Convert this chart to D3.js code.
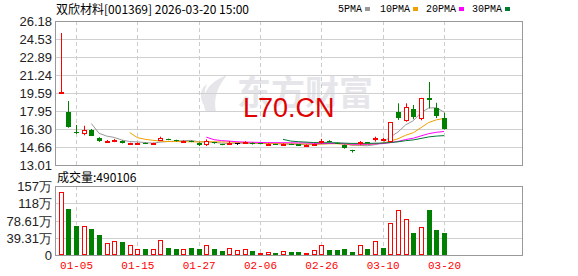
<!DOCTYPE html>
<html lang="zh">
<head>
<meta charset="UTF-8">
<title>双欣材料 日K</title>
<script src="https://cdn.jsdelivr.net/npm/d3@7"></script>
<style>
  body { margin: 0; background: #fff; }
  svg { display: block; }
</style>
</head>
<body>
<div id="draw-here"></div>
<script>
// daily bars, volume in 万股
var dates = ["12-30","12-31","01-05","01-06","01-07","01-08","01-09","01-12","01-13","01-14",
  "01-15","01-16","01-19","01-20","01-21","01-22","01-23","01-26","01-27","01-28",
  "01-29","01-30","02-02","02-03","02-04","02-05","02-06","02-09","02-10","02-11",
  "02-12","02-13","02-24","02-25","02-26","02-27","03-02","03-03","03-04","03-05",
  "03-06","03-09","03-10","03-11","03-12","03-13","03-16","03-17","03-18","03-19","03-20"];
var opens = [19.55,17.86,16.06,15.85,16.24,15.51,15.15,15.14,15.23,14.95,
  14.93,15.03,14.95,15.23,15.37,15.30,15.18,15.20,15.05,14.85,
  15.10,14.90,14.95,15.00,15.05,15.05,15.00,14.92,14.95,14.90,
  14.95,14.90,14.80,14.85,15.05,15.20,15.05,14.84,14.38,14.93,
  15.09,15.30,15.30,15.09,17.89,17.03,18.13,17.19,19.14,18.20,17.31];
var highs = [25.08,18.86,16.67,16.60,16.30,15.55,15.30,15.40,15.26,15.05,
  15.06,15.06,15.04,15.60,15.42,15.32,15.26,15.24,15.08,15.35,
  15.12,14.92,15.20,15.00,15.18,15.08,15.02,14.98,14.97,14.98,
  14.96,14.92,14.88,14.98,15.40,15.28,15.08,14.88,14.40,15.20,
  15.12,15.60,15.50,16.95,18.65,18.65,18.50,19.15,20.60,18.70,17.79];
var lows = [19.50,16.42,15.85,15.73,15.65,15.12,15.08,15.10,14.98,14.92,
  14.90,14.95,14.92,15.20,15.28,15.15,15.15,15.10,14.75,14.75,
  14.95,14.82,14.85,14.85,15.00,14.88,14.90,14.90,14.88,14.88,
  14.85,14.75,14.78,14.82,14.95,15.10,14.95,14.50,14.15,14.85,
  14.98,15.15,15.25,15.05,17.13,16.97,17.19,17.10,18.20,17.30,16.25];
var closes = [19.65,16.51,15.94,16.21,15.69,15.21,15.22,15.32,15.00,15.02,
  15.03,14.98,15.00,15.48,15.30,15.18,15.22,15.12,14.85,15.20,
  15.00,14.85,15.00,15.00,15.12,14.90,14.92,14.95,14.90,14.95,
  14.88,14.78,14.85,14.95,15.20,15.13,14.98,14.53,14.25,15.09,
  15.00,15.48,15.40,16.91,17.34,18.29,17.37,19.11,18.98,17.50,16.31];
var volumes = [144.3,104.8,66.1,66.1,59.2,45.6,27.3,31.9,29.6,22.1,
  13.7,13.7,13.7,34.2,16.0,13.7,13.7,16.6,13.7,22.8,
  13.7,9.8,15.3,11.4,13.7,9.8,5.2,6.8,5.2,9.1,
  6.8,6.8,4.6,11.4,22.8,11.4,11.4,13.7,6.8,22.8,
  13.7,31.9,16.0,72.2,101.9,81.4,50.8,63.8,102.5,57.0,49.0106];

var priceTicks = [13.01, 14.66, 16.30, 17.95, 19.59, 21.24, 22.89, 24.53, 26.18];
var volTicks = [0, 39.31, 78.61, 118, 157];
var volTickLabels = ["0", "39.31万", "78.61万", "118万", "157万"];
var dateTicks = ["01-05", "01-15", "01-27", "02-06", "02-26", "03-10", "03-20"];
var maPeriods = [5, 10, 20, 30];
var maNames = ["5PMA", "10PMA", "20PMA", "30PMA"];

var W = 578, H = 276;
var left = 55, right = 522;
var pTop = 21, pBottom = 165;
var vTop = 186, vBottom = 255;
var RED = "#ff0000", GREEN = "#008000";
var maColors = ["#999999", "#f0a000", "#ff00ff", "#007a33"];

var svg = d3.select("#draw-here").append("svg")
  .attr("width", W).attr("height", H);

var x = d3.scaleLinear().domain([0, 50]).range([60.7, 444]);
var y = d3.scaleLinear().domain([13.01, 26.18]).range([pBottom, pTop]);
var yv = d3.scaleLinear().domain([0, 157.22]).range([vBottom, vTop]);

function cx(i) { return Math.round(x(i)) + 0.5; }

// watermark
var wm = svg.append("g").attr("fill", "#e6e6ea");
wm.append("path").attr("d", "M206,112 C199,96 208,82 227,75 C218,86 213,98 216,112 Z");
wm.append("path").attr("d", "M203,104 C199,95 201,88 207,84 C204,91 204,98 206,106 Z");
wm.append("text").attr("x", 237).attr("y", 105)
  .attr("font-family", "Noto Sans CJK SC").attr("font-weight", "bold")
  .attr("font-size", 34).text("东方财富");

// grid lines
function hGrid(scale, ticks) {
  svg.append("g").selectAll("line").data(ticks).enter().append("line")
    .attr("x1", left).attr("x2", right)
    .attr("y1", function(d) { return Math.round(scale(d)) + 0.5; })
    .attr("y2", function(d) { return Math.round(scale(d)) + 0.5; })
    .attr("stroke", "#d0d0d0");
}
hGrid(y, priceTicks);
hGrid(yv, volTicks);

var tickIdx = dateTicks.map(function(d) { return dates.indexOf(d); });
[[pTop, pBottom], [vTop, vBottom]].forEach(function(r) {
  svg.append("g").selectAll("line").data(tickIdx).enter().append("line")
    .attr("x1", cx).attr("x2", cx)
    .attr("y1", r[0]).attr("y2", r[1])
    .attr("stroke", "#cccccc").attr("stroke-dasharray", "4,3");
});

// frames
[[pTop, pBottom], [vTop, vBottom]].forEach(function(r) {
  svg.append("rect").attr("x", left + 0.5).attr("y", r[0] + 0.5)
    .attr("width", right - left).attr("height", r[1] - r[0])
    .attr("fill", "none").attr("stroke", "#999");
});

// y axes
var yAxis = d3.axisLeft(y).tickValues(priceTicks).tickSize(0).tickPadding(3)
  .tickFormat(function(d) { return d.toFixed(2); });
var gy = svg.append("g").attr("transform", "translate(" + left + ",0)").call(yAxis);
var yvAxis = d3.axisLeft(yv).tickValues(volTicks).tickSize(0).tickPadding(3)
  .tickFormat(function(d, i) { return volTickLabels[i]; });
var gyv = svg.append("g").attr("transform", "translate(" + left + ",0)").call(yvAxis);
[gy, gyv].forEach(function(g) {
  g.select(".domain").remove();
  g.selectAll("text").attr("font-family", "Liberation Sans").attr("font-size", 13)
    .attr("fill", "#222").attr("dy", "0.36em");
});

// x axis labels
var xAxis = d3.axisBottom(x).tickValues(tickIdx).tickSize(0).tickPadding(6)
  .tickFormat(function(d) { return dates[d]; });
var gx = svg.append("g").attr("transform", "translate(0," + vBottom + ")").call(xAxis);
gx.select(".domain").remove();
gx.selectAll("text").attr("font-family", "Liberation Mono").attr("font-size", 11)
  .attr("fill", RED);

// MA lines
maPeriods.forEach(function(p, k) {
  var pts = [];
  for (var i = p - 1; i < closes.length; i++) {
    pts.push([i, d3.mean(closes.slice(i - p + 1, i + 1))]);
  }
  svg.append("path").datum(pts)
    .attr("fill", "none").attr("stroke", maColors[k]).attr("stroke-width", 1)
    .attr("d", d3.line().x(function(d) { return x(d[0]); }).y(function(d) { return y(d[1]); }));
});

// candles
var idx = d3.range(dates.length);
var candles = svg.append("g").selectAll("g").data(idx).enter().append("g");
candles.each(function(i) {
  var g = d3.select(this);
  var o = opens[i], c = closes[i];
  var col = c > o ? RED : (c < o ? GREEN : "#000");
  var xc = cx(i);
  var top = Math.round(y(Math.max(o, c))), bot = Math.round(y(Math.min(o, c)));
  g.append("line").attr("x1", xc).attr("x2", xc)
    .attr("y1", y(highs[i])).attr("y2", y(lows[i])).attr("stroke", col);
  if (c > o) {
    g.append("rect").attr("x", xc - 2).attr("y", top + 0.5)
      .attr("width", 4).attr("height", Math.max(bot - top - 1, 1))
      .attr("fill", "#fff").attr("stroke", col);
  } else if (c < o) {
    g.append("rect").attr("x", xc - 2.5).attr("y", top)
      .attr("width", 5).attr("height", Math.max(bot - top, 1)).attr("fill", col);
  } else {
    g.append("line").attr("x1", xc - 2.5).attr("x2", xc + 2.5)
      .attr("y1", top + 0.5).attr("y2", top + 0.5).attr("stroke", col);
  }
});

// volume bars, colored by change against previous close
svg.append("g").selectAll("rect").data(idx).enter().append("rect")
  .each(function(i) {
    var up = i === 0 ? closes[i] >= opens[i] : closes[i] >= closes[i - 1];
    var xc = cx(i);
    var t = Math.round(yv(volumes[i]));
    var r = d3.select(this);
    if (up) {
      r.attr("x", xc - 2).attr("y", t + 0.5).attr("width", 4)
        .attr("height", Math.max(vBottom - t - 1, 1))
        .attr("fill", "#fff").attr("stroke", RED);
    } else {
      r.attr("x", xc - 2.5).attr("y", t).attr("width", 5)
        .attr("height", vBottom - t).attr("fill", GREEN);
    }
  });

// titles
svg.append("text").attr("x", 56).attr("y", 14)
  .attr("font-family", "Noto Sans CJK SC").attr("font-size", 12).attr("fill", "#000")
  .text("双欣材料[001369] 2026-03-20 15:00");
svg.append("text").attr("x", 57).attr("y", 182)
  .attr("font-family", "Noto Sans CJK SC").attr("font-size", 12).attr("fill", "#000")
  .text("成交量:" + Math.round(volumes[volumes.length - 1] * 10000));

// legend
var legX = [338, 380, 426, 472];
var leg = svg.append("g").selectAll("g").data(maNames).enter().append("g");
leg.append("text").attr("x", function(d, i) { return legX[i]; }).attr("y", 12)
  .attr("font-family", "Liberation Mono").attr("font-size", 10).attr("fill", "#000")
  .text(function(d) { return d; });
leg.append("rect").attr("x", function(d, i) { return legX[i] + d.length * 6 + 3; })
  .attr("y", 7).attr("width", 5).attr("height", 4)
  .attr("fill", function(d, i) { return maColors[i]; });

// red overlay text
svg.append("text").attr("x", 243).attr("y", 117)
  .attr("font-family", "Liberation Sans").attr("font-size", 27).attr("fill", "#e00000")
  .text("L70.CN");
</script>
</body>
</html>
